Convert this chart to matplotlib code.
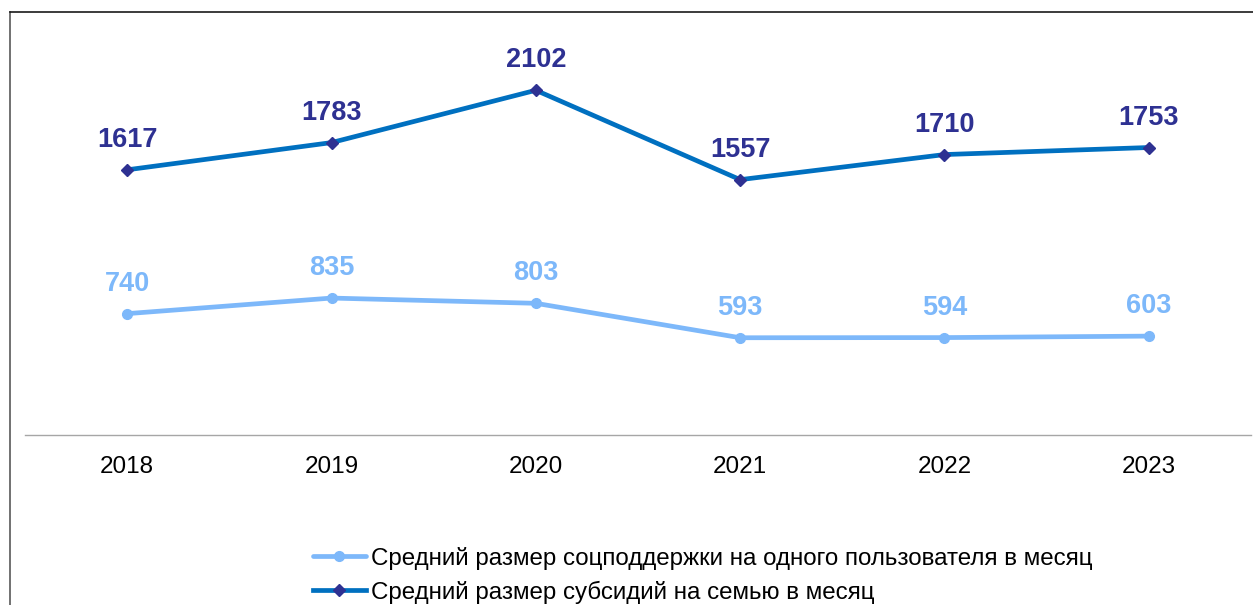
import matplotlib.pyplot as plt
from matplotlib.lines import Line2D

plt.rcParams['font.family'] = ['Liberation Sans', 'DejaVu Sans']

# data
years = ['2018', '2019', '2020', '2021', '2022', '2023']
support = [740, 835, 803, 593, 594, 603]
subsidy = [1617, 1783, 2102, 1557, 1710, 1753]
label_support = 'Средний размер соцподдержки на одного пользователя в месяц'
label_subsidy = 'Средний размер субсидий на семью в месяц'

light = '#7DB8FA'
dark = '#0070C0'
navy = '#2E3192'

fig = plt.figure(figsize=(12.53, 6.05), dpi=100)
ax = fig.add_axes([25 / 1253, 170 / 605, 1226 / 1253, 410 / 605])

x = range(len(years))
ax.plot(x, support, color=light, lw=3.4, marker='o', ms=7, mfc=light, mec=light,
        label=label_support, solid_capstyle='round')
ax.plot(x, subsidy, color=dark, lw=3.4, marker='D', ms=6, mfc=navy, mec=navy,
        label=label_subsidy)

# value labels above points
for i, v in enumerate(support):
    ax.annotate(str(v), (i, v), xytext=(0, 21.5), textcoords='offset points',
                ha='center', va='center', fontsize=19.5, fontweight='bold', color=light)
for i, v in enumerate(subsidy):
    ax.annotate(str(v), (i, v), xytext=(0, 21.5), textcoords='offset points',
                ha='center', va='center', fontsize=19.5, fontweight='bold', color=navy)

ax.set_xlim(-0.5, len(years) - 0.5)
ax.set_ylim(0, 2500)
ax.set_xticks(list(x))
ax.set_xticklabels(years, fontsize=17.5)
ax.tick_params(axis='x', length=0, pad=15)
ax.set_yticks([])
for s in ['top', 'right', 'left']:
    ax.spines[s].set_visible(False)
ax.spines['bottom'].set_color('#A6A6A6')
ax.spines['bottom'].set_linewidth(1)

leg = fig.legend(loc='upper left', bbox_to_anchor=(303 / 1253, 1 - 537 / 605),
                 frameon=False, fontsize=17.4, handlelength=2.2, handletextpad=0.2,
                 labelspacing=0.45, borderaxespad=0)

# chart frame (left and top edges)
fig.add_artist(Line2D([10 / 1253, 10 / 1253], [0, 1 - 12 / 605], transform=fig.transFigure,
                      color='#595959', lw=1.2))
fig.add_artist(Line2D([10 / 1253, 1], [1 - 12 / 605, 1 - 12 / 605], transform=fig.transFigure,
                      color='#1a1a1a', lw=1.2))

fig.savefig('out.png', dpi=100)
